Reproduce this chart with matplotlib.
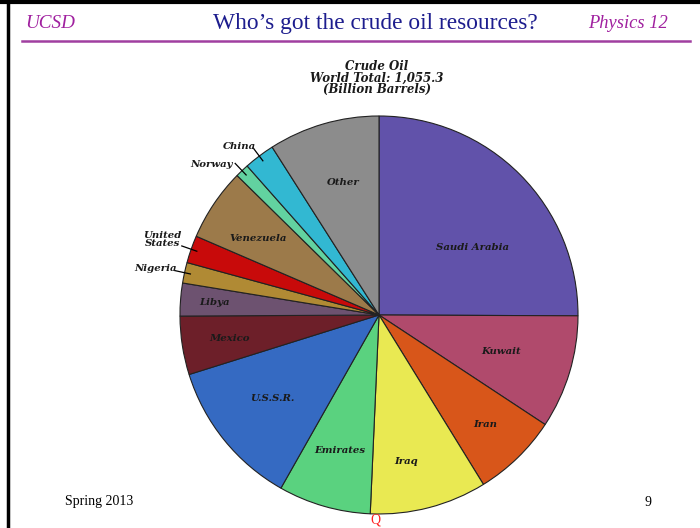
import numpy as np
import matplotlib
matplotlib.use("Agg")
import matplotlib.pyplot as plt
from matplotlib.lines import Line2D

# crude oil reserves, billion barrels
countries = ["Saudi Arabia", "Kuwait", "Iran", "Iraq", "Emirates", "U.S.S.R.",
             "Mexico", "Libya", "Nigeria", "United\nStates", "Venezuela",
             "Norway", "China", "Other"]
reserves = [264.0, 97.0, 73.0, 100.0, 79.0, 126.0,
            50.0, 28.0, 17.6, 23.5, 62.0, 11.7, 26.4, 95.0]
colors = ["#6152aa", "#b04a6c", "#d8561a", "#e9e952", "#5ad27f", "#356ac2",
          "#6d1f29", "#6d5270", "#b08a34", "#c80a0a", "#9c7a4a",
          "#62d2a0", "#32b8d2", "#8c8c8c"]

# label placement: (radius, angle offset in degrees)
inside = {"Saudi Arabia": (0.58, -9), "Kuwait": (0.64, 0), "Iran": (0.77, 0),
          "Iraq": (0.75, -4), "Emirates": (0.71, 0), "U.S.S.R.": (0.68, -1),
          "Mexico": (0.76, 0), "Libya": (0.83, 0), "Venezuela": (0.72, 1.5),
          "Other": (0.69, -1)}
outside = {"China": (1.10, 2.5), "Norway": (1.13, 4.5),
           "United\nStates": (1.155, 0), "Nigeria": (1.146, 0.5)}

fig = plt.figure(figsize=(7, 5.28), dpi=100)
fig.patch.set_facecolor("white")

# slide frame
fig.add_artist(Line2D([8 / 700, 8 / 700], [0, 1], color="black", lw=2.5))
fig.add_artist(Line2D([0, 1], [1 - 2 / 528, 1 - 2 / 528], color="black", lw=3))

# header
fig.text(25 / 700, 1 - 23 / 528, "UCSD", fontsize=13.8, style="italic",
         family="Liberation Serif", color="#a0209f", va="center")
fig.text(375 / 700, 1 - 23 / 528, "Who\u2019s got the crude oil resources?",
         fontsize=16.8, family="Liberation Serif", color="#1d1d8e",
         ha="center", va="center")
fig.text(668 / 700, 1 - 23 / 528, "Physics 12", fontsize=13.3, style="italic",
         family="Liberation Serif", color="#a0209f", ha="right", va="center")
fig.add_artist(Line2D([22 / 700, 690 / 700], [1 - 41 / 528, 1 - 41 / 528],
                      color="#a03fa0", lw=1.8))

# footer
fig.text(65 / 700, 1 - 502 / 528, "Spring 2013", fontsize=10,
         family="Liberation Serif", va="center")
fig.text(648 / 700, 1 - 502 / 528, "9", fontsize=10,
         family="Liberation Serif", ha="center", va="center")

ax = fig.add_axes([180 / 700, 14 / 528, 398 / 700, 398 / 528])
wedges, _ = ax.pie(reserves, colors=colors, startangle=90, counterclock=False,
                   wedgeprops=dict(edgecolor="#222222", linewidth=0.8))
ax.set_xlim(-1, 1)
ax.set_ylim(-1, 1)
ax.axis("off")

lab_font = dict(family="DejaVu Serif", style="italic", weight="bold",
                fontsize=7.3, color="#1a1a1a")
for w, name in zip(wedges, countries):
    mid = (w.theta1 + w.theta2) / 2
    if name in inside:
        r, off = inside[name]
        a = np.radians(mid + off)
        ax.text(r * np.cos(a), r * np.sin(a), name, ha="center", va="center",
                **lab_font)
    else:
        r, off = outside[name]
        a = np.radians(mid + off)
        ax.text(r * np.cos(a), r * np.sin(a), name, ha="center", va="center",
                linespacing=0.85, clip_on=False, **lab_font)
        m = np.radians(mid)
        ax.plot([0.97 * np.cos(m), 1.05 * np.cos(m)],
                [0.97 * np.sin(m), 1.05 * np.sin(m)],
                color="black", lw=0.9, clip_on=False)

fig.text(377 / 700, 1 - 78 / 528, "Crude Oil\nWorld Total: 1,055.3\n(Billion Barrels)",
         ha="center", va="center", linespacing=0.8, family="DejaVu Serif",
         style="italic", weight="bold", fontsize=8.5, color="#1a1a1a")

fig.text(375 / 700, 1 - 520 / 528, "Q", fontsize=10, family="Liberation Serif",
         color="#ff2020", ha="center", va="center")

fig.savefig("out.png", dpi=100, facecolor="white")
